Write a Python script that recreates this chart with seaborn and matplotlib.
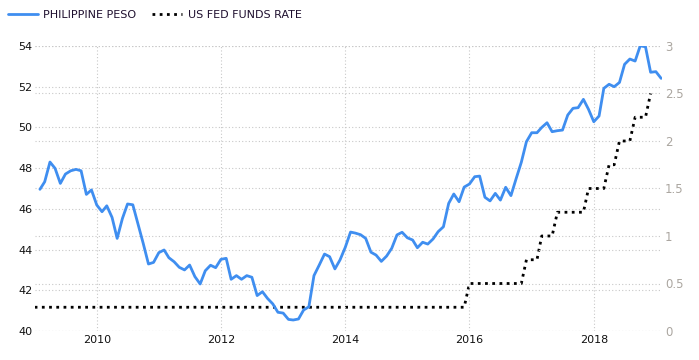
import numpy as np
import pandas as pd
import matplotlib.pyplot as plt
import seaborn as sns
from matplotlib.lines import Line2D

# monthly values
peso = [46.96, 47.33, 48.30, 47.99, 47.25, 47.71, 47.87, 47.94, 47.87, 46.71,
        46.93, 46.19, 45.86, 46.15, 45.58, 44.55, 45.53, 46.24, 46.20, 45.24,
        44.31, 43.29, 43.37, 43.85, 43.98, 43.60, 43.40, 43.13, 43.00, 43.24,
        42.67, 42.31, 42.96, 43.23, 43.11, 43.52, 43.57, 42.54, 42.72, 42.54,
        42.72, 42.64, 41.74, 41.93, 41.60, 41.33, 40.92, 40.88, 40.57, 40.54,
        40.59, 41.03, 41.19, 42.72, 43.24, 43.78, 43.65, 43.05, 43.49, 44.11,
        44.86, 44.81, 44.73, 44.55, 43.87, 43.73, 43.42, 43.68, 44.06, 44.72,
        44.85, 44.58, 44.47, 44.09, 44.36, 44.27, 44.52, 44.88, 45.12, 46.27,
        46.73, 46.35, 47.07, 47.22, 47.58, 47.61, 46.57, 46.39, 46.76, 46.43,
        47.06, 46.65, 47.47, 48.29, 49.30, 49.74, 49.74, 50.00, 50.23, 49.79,
        49.84, 49.87, 50.61, 50.94, 50.97, 51.38, 50.89, 50.28, 50.56, 51.92,
        52.12, 52.00, 52.21, 53.10, 53.36, 53.26, 54.01, 53.96, 52.71, 52.74,
        52.41]
peso_dates = pd.date_range('2009-02-01', periods=len(peso), freq='MS')

fed = ([0.25] * 84 + [0.5] * 11 + [0.75] * 3 + [1.0] * 3 + [1.25] * 6 +
       [1.5] * 4 + [1.75] * 2 + [2.0] * 3 + [2.25] * 3 + [2.5] * 1)
fed_dates = pd.date_range('2009-01-01', periods=len(fed), freq='MS')

left_ticks = [40, 42, 44, 46, 48, 50, 52, 54]
right_ticks = [0, 0.5, 1, 1.5, 2, 2.5, 3]
right_labels = ['0', '0.5', '1', '1.5', '2', '2.5', '3']
year_ticks = ['2010', '2012', '2014', '2016', '2018']

df_peso = pd.DataFrame({'date': peso_dates, 'value': peso})
df_fed = pd.DataFrame({'date': fed_dates, 'value': fed})

sns.set_style('white')
plt.rcParams['font.family'] = ['DejaVu Sans']

blue = '#3f8ef0'
grid_kw = dict(color='#c8c8c8', linestyle=(0, (1, 2)), linewidth=0.8)

fig = plt.figure(figsize=(6.99, 3.6), dpi=100)
ax = fig.add_axes([35 / 699, 1 - 331 / 360, (662 - 35) / 699, (331 - 46) / 360])
ax2 = ax.twinx()

sns.lineplot(data=df_peso, x='date', y='value', ax=ax, color=blue, linewidth=2.0)
sns.lineplot(data=df_fed, x='date', y='value', ax=ax2, color='black',
             linewidth=2.0, linestyle=(0, (1, 1.6)))

ax.set_xlim(pd.Timestamp('2009-01-03'), pd.Timestamp('2019-02-06'))
ax.set_ylim(40, 54)
ax2.set_ylim(0, 3)

ax.set_yticks(left_ticks)
ax.set_yticklabels([str(t) for t in left_ticks])
ax2.set_yticks(right_ticks)
ax2.set_yticklabels(right_labels)
ax.set_xticks([pd.Timestamp(y + '-01-01') for y in year_ticks])
ax.set_xticklabels(year_ticks)

for a in (ax, ax2):
    a.set_xlabel('')
    a.set_ylabel('')
    for s in a.spines.values():
        s.set_visible(False)
    a.tick_params(length=0)

ax.tick_params(axis='y', labelsize=8, labelcolor='#111111', pad=2)
ax.tick_params(axis='x', labelsize=8, labelcolor='#111111', pad=3)
ax2.tick_params(axis='y', labelsize=8.5, labelcolor='#aba6a0', pad=2)

ax.grid(True, axis='both', **grid_kw)
ax2.grid(True, axis='y', **grid_kw)
ax.set_zorder(ax2.get_zorder() + 1)
ax.patch.set_visible(False)

handles = [Line2D([], [], color=blue, linewidth=2.0),
           Line2D([], [], color='black', linewidth=2.0, linestyle=(0, (1, 1.6)))]
fig.legend(handles, ['PHILIPPINE PESO', 'US FED FUNDS RATE'], loc='upper left',
           bbox_to_anchor=(-0.003, 1.0), ncol=2, frameon=False, fontsize=8,
           handlelength=2.7, handletextpad=0.5, columnspacing=1.4,
           labelcolor='#1e0f2e')

fig.savefig('out.png', dpi=100)
